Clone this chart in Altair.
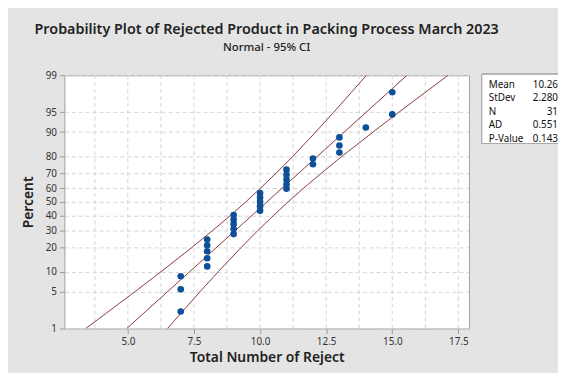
import altair as alt
import pandas as pd
from statistics import NormalDist

# ---- data ----
rejects = [7, 7, 7, 8, 8, 8, 8, 8, 9, 9, 9, 9, 9, 10, 10, 10, 10, 10,
           11, 11, 11, 11, 11, 12, 12, 13, 13, 13, 14, 15, 15]
percents = [2.2, 5.4, 8.6, 11.8, 15.0, 18.2, 21.3, 24.5, 27.7, 30.9, 34.1,
            37.3, 40.4, 43.6, 46.8, 50.0, 53.2, 56.4, 59.6, 62.7, 65.9, 69.1,
            72.3, 75.5, 78.7, 81.8, 85.0, 88.2, 91.4, 94.6, 97.8]

fit_pct = [1, 99]
fit_x = [4.96, 15.56]

ci_pct = [1, 2, 5, 10, 20, 30, 40, 50, 60, 70, 80, 90, 95, 98, 99]
ci_left_x = [3.41, 4.16, 5.28, 6.26, 7.41, 8.21, 8.87, 9.46, 10.02, 10.60,
             11.25, 12.10, 12.78, 13.53, 14.02]
ci_right_x = [6.50, 6.99, 7.74, 8.42, 9.28, 9.92, 10.50, 11.06, 11.65, 12.31,
              13.11, 14.27, 15.24, 16.36, 17.11]

pct_ticks = [1, 5, 10, 20, 30, 40, 50, 60, 70, 80, 90, 95, 99]
x_ticks = [5.0, 7.5, 10.0, 12.5, 15.0, 17.5]
x_grid = [3.75, 5.0, 6.25, 7.5, 8.75, 10.0, 11.25, 12.5, 13.75, 15.0, 16.25, 17.5]

stat_names = ["Mean", "StDev", "N", "AD", "P-Value"]
stat_values = ["10.26", "2.280", "31", "0.551", "0.143"]

# ---- tables ----
pts = pd.DataFrame({"x": rejects, "pct": percents})
fit = pd.DataFrame({"x": fit_x, "pct": fit_pct})
ci = pd.concat([
    pd.DataFrame({"x": ci_left_x, "pct": ci_pct, "band": "upper"}),
    pd.DataFrame({"x": ci_right_x, "pct": ci_pct, "band": "lower"}),
])
grid = pd.DataFrame({"x": x_grid})
stats = pd.DataFrame({"name": stat_names, "value": stat_values})

nd = NormalDist()
z_ticks = [nd.inv_cdf(p / 100) for p in pct_ticks]
zmax = nd.inv_cdf(0.99)

FONT = "Noto Sans"
LINE = "#8a3b3b"
xscale = alt.Scale(domain=[2.6, 17.9], nice=False, zero=False)
yscale = alt.Scale(domain=[-zmax, zmax], nice=False, zero=False)

xenc = alt.X("x:Q", scale=xscale,
             axis=alt.Axis(values=x_ticks, format=".1f", grid=False,
                           title="Total Number of Reject", titleFontSize=14,
                           titleFontWeight=600, titleFont=FONT, titleColor="#222",
                           labelFont=FONT, labelFontSize=10, labelColor="#333",
                           tickColor="#999", tickSize=5, domain=False,
                           labelPadding=3, titlePadding=4))
yenc = alt.Y("z:Q", scale=yscale,
             axis=alt.Axis(values=z_ticks,
                           labelExpr="format(cumulativeNormal(datum.value)*100, '.0f')",
                           grid=True, gridDash=[4, 3], gridColor="#d4d4d4",
                           title="Percent", titleFontSize=14, titleFontWeight=600,
                           titleFont=FONT, titleColor="#222",
                           labelFont=FONT, labelFontSize=10, labelColor="#333",
                           tickColor="#999", tickSize=5, domain=False,
                           labelPadding=3, titlePadding=10))

calc = "quantileNormal(datum.pct/100)"

grid_layer = alt.Chart(grid).mark_rule(color="#d4d4d4", strokeDash=[4, 3], strokeWidth=1).encode(
    x=alt.X("x:Q", scale=xscale))

ci_layer = alt.Chart(ci).mark_line(color=LINE, strokeWidth=1, clip=True).transform_calculate(
    z=calc).encode(x=xenc, y=yenc, detail="band:N", order="pct:Q")

fit_layer = alt.Chart(fit).mark_line(color=LINE, strokeWidth=1, clip=True).transform_calculate(
    z=calc).encode(x=xenc, y=yenc, order="pct:Q")

pt_layer = alt.Chart(pts).mark_circle(color="#0d4f99", opacity=1, size=45).transform_calculate(
    z=calc).encode(x=xenc, y=yenc)

main = alt.layer(grid_layer, ci_layer, fit_layer, pt_layer)

box = alt.Chart(stats).mark_rect(fill="white", stroke="#a8a8a8", strokeWidth=1).encode(
    x=alt.value(422), x2=alt.value(502), y=alt.value(-1), y2=alt.value(69))

row_y = alt.Y("name:N", sort=stat_names,
              scale=alt.Scale(type="point", domain=stat_names, range=[10, 64], padding=0),
              axis=None)
lab = alt.Chart(stats).mark_text(align="left", baseline="middle", font=FONT,
                                 fontSize=10, color="#111").encode(
    x=alt.value(429), y=row_y, text="name:N")
val = alt.Chart(stats).mark_text(align="right", baseline="middle", font=FONT,
                                 fontSize=10, color="#111").encode(
    x=alt.value(499), y=row_y, text="value:N")

chart = alt.layer(main, box, lab, val).resolve_scale(y="independent").properties(
    width=409, height=256,
    autosize=alt.AutoSizeParams(type="none"),
    padding={"left": 57, "top": 66, "right": 90, "bottom": 43},
    background="#e4e4e4",
    title=alt.TitleParams(
        text="Probability Plot of Rejected Product in Packing Process March 2023",
        subtitle="Normal - 95% CI", anchor="middle", font=FONT, fontSize=14.5,
        fontWeight=600, color="#222", subtitleFont=FONT, subtitleFontSize=11.5,
        subtitleFontWeight=500, subtitleColor="#222", subtitlePadding=5, offset=16),
).configure_view(fill="white", stroke="#a0a0a0", strokeWidth=1)

chart.save("out.html", embed_options={"renderer": "svg", "actions": False})
